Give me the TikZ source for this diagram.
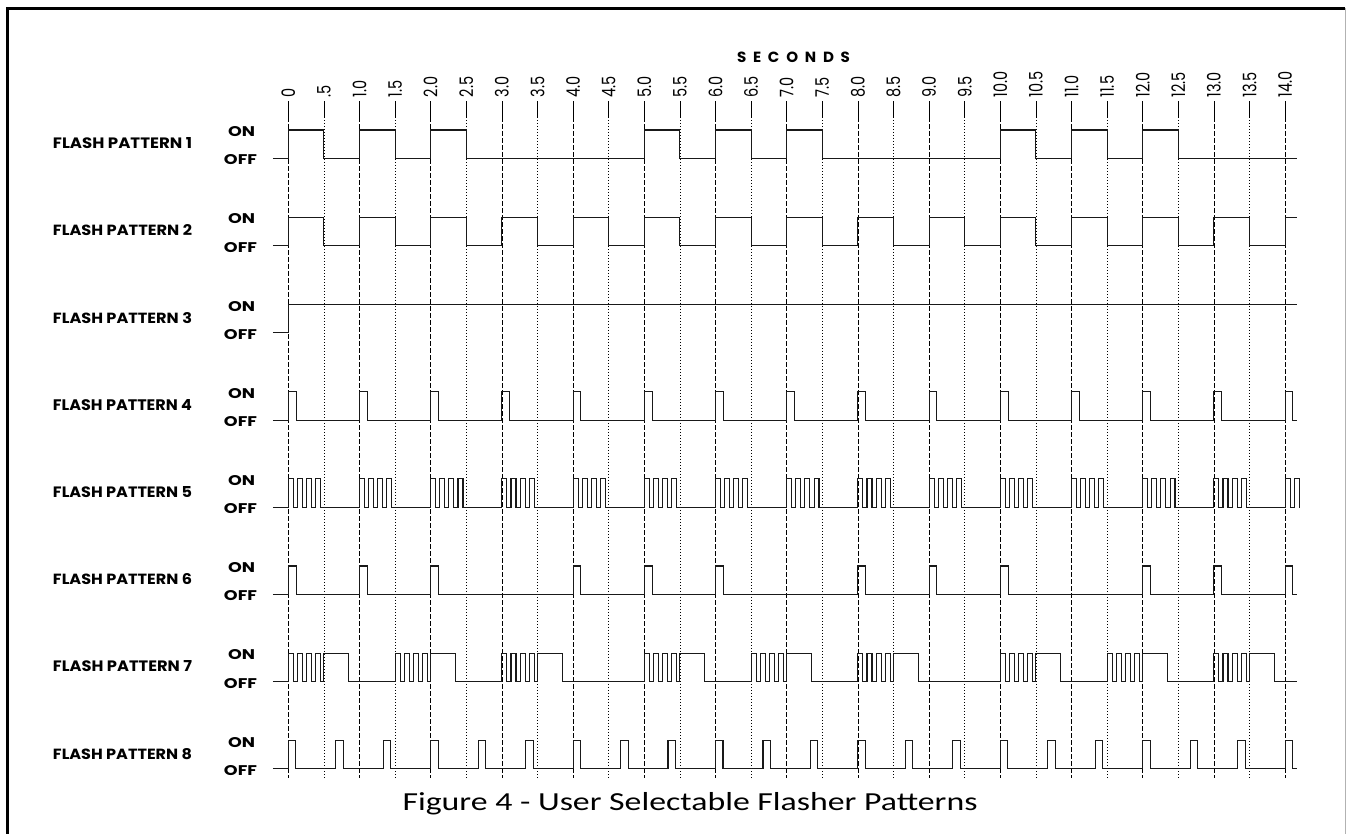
\documentclass[tikz,border=0pt]{standalone}
\usepackage{fontspec}
\setmainfont{Poppins}
\newfontfamily\tickfont{Poppins}
\newfontfamily\secfont[LetterSpace=45]{Poppins}
\newfontfamily\capfont{Carlito}
\begin{document}
\begin{tikzpicture}[x=1pt,y=-1pt,
  sig/.style={line width=1.1pt, line join=miter, draw=black!90},
  intgrid/.style={line width=0.7pt, dash pattern=on 4.7pt off 2.3pt},
  halfgrid/.style={line width=0.7pt, dash pattern=on 1.3pt off 1.7pt},
  ticksolid/.style={line width=0.8pt},
  lab/.style={inner sep=0pt, font=\bfseries},
  ticklab/.style={rotate=90, anchor=west, inner sep=0pt}]
\useasboundingbox (0,0) rectangle (1347,834);
% frame
\draw[line width=2.6pt] (7.3,834) -- (7.3,8.3) -- (1345,8.3);
\draw[line width=0.8pt, black!30] (1345,8.3) -- (1345,834);
% title
\node[lab] (sec) at (793.5,57) {\resizebox{113pt}{10.5pt}{\secfont\bfseries SECONDS}};
% row labels
\foreach \n in {1,...,8} {
  \pgfmathsetmacro\on{130+87.2*(\n-1)}
  \pgfmathsetmacro\off{\on+28.5}
  \node[lab] (fp\n) at (122.5,{(\on+\off)/2-1}) {\resizebox{139pt}{11pt}{\bfseries FLASH PATTERN \n}};
  \node[lab] (on\n) at (241.5,\on+1.7) {\resizebox{27pt}{10pt}{\bfseries ON}};
  \node[lab] (off\n) at (240.5,\off+1.5) {\resizebox{33pt}{10pt}{\bfseries OFF}};
}
\begin{scope}[xshift=288.3pt, x=71.2pt]
% grid
\foreach \t in {0,...,14} {
  \draw[ticksolid] (\t,101.5) -- (\t,117);
  \draw[intgrid] (\t,117) -- (\t,778);
}
\foreach \t in {0.5,1.5,...,13.5} {
  \draw[ticksolid] (\t,101.5) -- (\t,117);
  \draw[halfgrid] (\t,117) -- (\t,778);
}
\foreach \t/\l in {0/0,0.5/.5,1/1.0,1.5/1.5,2/2.0,2.5/2.5,3/3.0,3.5/3.5,4/4.0,4.5/4.5,5/5.0,5.5/5.5,6/6.0,6.5/6.5,7/7.0,7.5/7.5,8/8.0,8.5/8.5,9/9.0,9.5/9.5,10/10.0,10.5/10.5,11/11.0,11.5/11.5,12/12.0,12.5/12.5,13/13.0,13.5/13.5,14/14.0} {
  \node[ticklab] (t\t) at (\t,97.5) {\scalebox{1.45}[1.86]{\tickfont\l}};
}
% pattern 1
\def\on{130}\def\off{158.5}
\draw[sig] (-0.215,\off) \foreach \s in {0,1,2,5,6,7,10,11,12} { -- (\s,\off) -- (\s,\on) -- (\s+0.5,\on) -- (\s+0.5,\off) } -- (14.17,\off);
% pattern 2
\def\on{217.2}\def\off{245.7}
\draw[sig] (-0.215,\off) \foreach \s in {0,...,13} { -- (\s,\off) -- (\s,\on) -- (\s+0.5,\on) -- (\s+0.5,\off) } -- (14,\off) -- (14,\on) -- (14.17,\on);
% pattern 3
\def\on{304.4}\def\off{332.9}
\draw[sig] (-0.215,\off) -- (0,\off) -- (0,\on) -- (14.17,\on);
% pattern 4
\def\on{391.6}\def\off{420.1}
\draw[sig] (-0.215,\off) \foreach \s in {0,...,14} { -- (\s,\off) -- (\s,\on) -- (\s+0.11,\on) -- (\s+0.11,\off) } -- (14.17,\off);
% pattern 5
\def\on{478.8}\def\off{507.3}
\draw[sig] (-0.215,\off) \foreach \s in {0,...,13} { \foreach \k in {0,0.128,0.256,0.384} { -- (\s+\k,\off) -- (\s+\k,\on) -- (\s+\k+0.07,\on) -- (\s+\k+0.07,\off) } } \foreach \k in {0,0.128} { -- (14+\k,\off) -- (14+\k,\on) -- (14.07+\k,\on) -- (14.07+\k,\off) } -- (14.2,\off);
% pattern 6
\def\on{566}\def\off{594.5}
\draw[sig] (-0.215,\off) \foreach \s in {0,1,2,4,5,6,8,9,10,12,13,14} { -- (\s,\off) -- (\s,\on) -- (\s+0.11,\on) -- (\s+0.11,\off) } -- (14.17,\off);
% pattern 7
\def\on{653.2}\def\off{681.7}
\draw[sig] (-0.215,\off) \foreach \s in {0,1.5,3,5,6.5,8,10,11.5,13} { \foreach \k in {0,0.128,0.256,0.384} { -- (\s+\k,\off) -- (\s+\k,\on) -- (\s+\k+0.07,\on) -- (\s+\k+0.07,\off) } -- (\s+0.5,\off) -- (\s+0.5,\on) -- (\s+0.85,\on) -- (\s+0.85,\off) } -- (14.17,\off);
% pattern 8
\def\on{740.4}\def\off{768.9}
\draw[sig] (-0.215,\off) \foreach \k in {0,...,21} { -- (\k*0.666667,\off) -- (\k*0.666667,\on) -- (\k*0.666667+0.105,\on) -- (\k*0.666667+0.105,\off) } -- (14.17,\off);
\end{scope}
% caption
\node[anchor=base, inner sep=0pt] (cap) at (690,810) {\scalebox{1.3}[1]{\capfont\fontsize{26}{30}\selectfont Figure 4 - User Selectable Flasher Patterns}};
\end{tikzpicture}
\end{document}
